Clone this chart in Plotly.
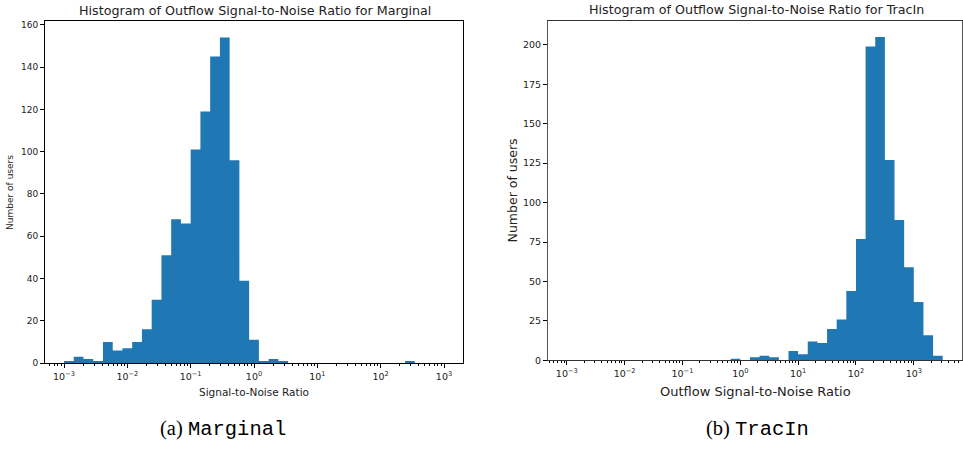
import numpy as np
import plotly.graph_objects as go

# ---- data ----
# Marginal: 39 log-spaced bins from 1e-3 to 1e3
marg_lo, marg_hi = -3.0, 3.0
marg_counts = [1, 3, 2, 1, 10, 6, 7, 10, 16, 30, 51, 68, 66, 101, 119, 145, 154, 96, 39, 11,
               1, 2, 1, 0, 0, 0, 0, 0, 0, 0, 0, 0, 0, 0, 0, 1, 0, 0, 0]
# TracIn: 39 log-spaced bins from 1e-3 to 10^3.5
trac_lo, trac_hi = -3.0, 3.5
trac_counts = [0, 0, 0, 0, 0, 0, 0, 0, 0, 0, 0, 0, 0, 0, 0, 0, 0, 1, 0, 2,
               3, 2, 0, 6, 4, 12, 11, 20, 26, 44, 77, 199, 205, 127, 89, 59, 37, 16, 3]

decades = [-3, -2, -1, 0, 1, 2, 3]
decade_labels = ["10<sup>\u22123</sup>", "10<sup>\u22122</sup>", "10<sup>\u22121</sup>",
                 "10<sup>0</sup>", "10<sup>1</sup>", "10<sup>2</sup>", "10<sup>3</sup>"]
marg_yticks = [0, 20, 40, 60, 80, 100, 120, 140, 160]
trac_yticks = [0, 25, 50, 75, 100, 125, 150, 175, 200]

BLUE = "#1f77b4"
FONT = "DejaVu Sans"


def step_xy(lo, hi, counts):
    edges = np.logspace(lo, hi, len(counts) + 1)
    xs = list(edges)
    ys = list(counts) + [counts[-1]]
    return xs, ys


fig = go.Figure()
mx, my = step_xy(marg_lo, marg_hi, marg_counts)
tx, ty = step_xy(trac_lo, trac_hi, trac_counts)
fig.add_trace(go.Scatter(x=mx, y=my, mode="lines", line=dict(width=0, shape="hv"),
                         fill="tozeroy", fillcolor=BLUE, xaxis="x", yaxis="y",
                         showlegend=False, hoverinfo="skip"))
fig.add_trace(go.Scatter(x=tx, y=ty, mode="lines", line=dict(width=0, shape="hv"),
                         fill="tozeroy", fillcolor=BLUE, xaxis="x2", yaxis="y2",
                         showlegend=False, hoverinfo="skip"))

minor_vals = [m * 10.0 ** d for d in range(-4, 4) for m in range(2, 10)]


def xaxis(domain, rng, anchor, size, lcolor):
    return dict(domain=domain, type="log", range=rng, anchor=anchor,
                tickmode="array", tickvals=[10.0 ** d for d in decades], ticktext=decade_labels,
                ticks="outside", ticklen=4, tickcolor="black", tickwidth=1,
                minor=dict(tickmode="array", tickvals=minor_vals, ticks="outside",
                           ticklen=2, tickcolor="black", tickwidth=0.8, showgrid=False),
                showline=True, linecolor=lcolor, linewidth=1, mirror=True,
                showgrid=False, zeroline=False,
                tickfont=dict(family=FONT, size=size, color="#222"))


def yaxis(domain, rng, anchor, tickvals, size, lcolor):
    return dict(domain=domain, range=rng, anchor=anchor,
                tickmode="array", tickvals=tickvals,
                ticks="outside", ticklen=4, tickcolor="black", tickwidth=1,
                showline=True, linecolor=lcolor, linewidth=1, mirror=True,
                showgrid=False, zeroline=False,
                tickfont=dict(family=FONT, size=size, color="#222"))


W, H = 963, 450
fig.update_layout(
    width=W, height=H, margin=dict(l=0, r=0, t=0, b=0),
    paper_bgcolor="white", plot_bgcolor="white",
    xaxis=xaxis([45 / W, 463 / W], [-3.3, 3.3], "y", 9.5, "black"),
    yaxis=yaxis([(H - 367) / H, (H - 20.5) / H], [0, 161.7], "x", marg_yticks, 9, "black"),
    xaxis2=xaxis([548 / W, 961.5 / W], [-3.325, 3.825], "y2", 9.5, "#333"),
    yaxis2=yaxis([(H - 364.3) / H, (H - 20) / H], [0, 215.25], "x2", trac_yticks, 9.5, "#555"),
)

ann = []


def add_text(text, x, y, size, angle=0, family=FONT, color="#222"):
    ann.append(dict(text=text, x=x / W, y=1 - y / H, xref="paper", yref="paper",
                    xanchor="center", yanchor="middle", showarrow=False, textangle=angle,
                    font=dict(family=family, size=size, color=color)))


add_text("Histogram of Outflow Signal-to-Noise Ratio for Marginal", 255, 10, 12.7)
add_text("Histogram of Outflow Signal-to-Noise Ratio for TracIn", 756, 9, 12.7)
add_text("Signal-to-Noise Ratio", 254, 396, 10.5)
add_text("Outflow Signal-to-Noise Ratio", 755, 396, 13)
add_text("Number of users", 10.5, 194, 9, angle=-90)
add_text("Number of users", 512, 192, 12.5, angle=-90)
add_text("(a) <span style='font-family:Liberation Mono'>Marginal</span>", 223, 434, 20.5,
         family="Liberation Serif", color="black")
add_text("(b) <span style='font-family:Liberation Mono'>TracIn</span>", 757, 434, 20.5,
         family="Liberation Serif", color="black")
fig.update_layout(annotations=ann)

fig.write_html("out.html")
